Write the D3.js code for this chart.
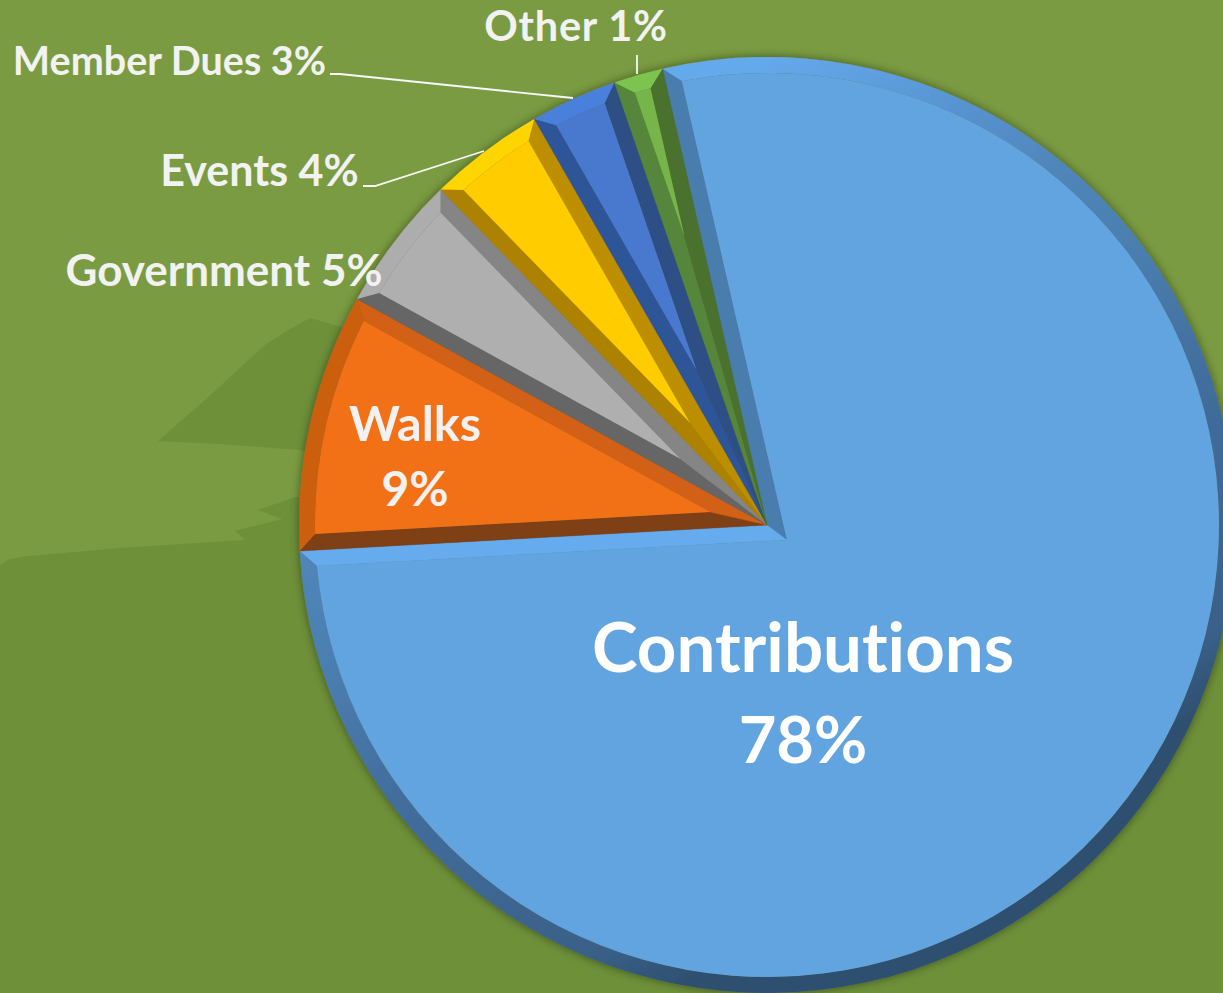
<!DOCTYPE html>
<html>
<head>
<meta charset="utf-8">
<script src="https://cdn.jsdelivr.net/npm/d3@7"></script>
<style>
  html, body { margin: 0; padding: 0; background: #7a9b41; overflow: hidden; }
  svg { display: block; }
  text { font-family: Lato, "Open Sans", sans-serif; font-weight: 700; font-variant-ligatures: none; }
</style>
</head>
<body>
<div id="chart"></div>
<script>
// Share of each slice (percent)
const categories = ['Contributions', 'Walks', 'Government', 'Events', 'Member Dues', 'Other'];
const shares = [77.7, 8.9, 4.7, 4.0, 3.0, 1.7];
// Percentages as printed on the labels
const printedPercents = [78, 9, 5, 4, 3, 1];

const faceColors = ['#62a4e0', '#f27118', '#afafaf', '#ffcc04', '#4a79cf', '#75b54a'];
const rimColors = ['url(#rimGradient)', '#cc5e10', '#adadad', '#ffd500', '#4a80dc', '#7cc34f'];
const startEdgeColors = ['#4a7dad', '#7f3f16', '#666666', '#ad8200', '#2f5597', '#57863a'];
const endEdgeColors = ['#66abee', '#d26012', '#858585', '#bd8f00', '#2e4f86', '#4b712e'];

const width = 1223, height = 993;
const cx = 767, cy = 525, radius = 468, bevel = 16;
const firstAngle = -12.9 * Math.PI / 180;

const svg = d3.select('#chart').append('svg')
    .attr('width', width)
    .attr('height', height);

const defs = svg.append('defs');

// Soft shadow round the pie
const shadow = defs.append('filter')
    .attr('id', 'pieShadow')
    .attr('x', '-5%').attr('y', '-5%')
    .attr('width', '110%').attr('height', '110%');
shadow.append('feDropShadow')
    .attr('dx', 0).attr('dy', 0)
    .attr('stdDeviation', 5)
    .attr('flood-color', '#000')
    .attr('flood-opacity', 0.45);

// Lit from the top left, so the big rim darkens towards the bottom right
const rimStops = [
    [0, '#66abee'], [0.13, '#64a9ec'], [0.27, '#5590cc'], [0.35, '#4f85b8'], [0.44, '#4a7fb0'],
    [0.56, '#436f9f'], [0.79, '#3a6088'], [0.85, '#2f5070'], [1, '#2e4f70']
];
defs.append('linearGradient')
    .attr('id', 'rimGradient')
    .attr('gradientUnits', 'userSpaceOnUse')
    .attr('x1', 500 - cx).attr('y1', 40 - cy)
    .attr('x2', 1000 - cx).attr('y2', 1000 - cy)
    .selectAll('stop')
    .data(rimStops)
    .join('stop')
    .attr('offset', d => d[0])
    .attr('stop-color', d => d[1]);

// Background landscape
const background = svg.append('g');
background.append('rect')
    .attr('width', width).attr('height', height)
    .attr('fill', '#7a9b41');
const landPaths = [
    'M158,441 L205,400 L265,345 L285,332 L310,318 L345,328 L400,400 L330,460 L300,450 L220,444 Z',
    'M258,510 L295,497 L330,497 L330,520 L285,520 Z',
    'M0,566 Q4,558 30,556 L120,548 L245,540 L235,531 L262,524 L320,510 L800,520 L1223,560 L1223,993 L0,993 Z'
];
background.selectAll('path')
    .data(landPaths)
    .join('path')
    .attr('d', d => d)
    .attr('fill', '#6e9039');

// Pie layout, clockwise from the Other/Contributions boundary
const pie = d3.pie()
    .sort(null)
    .startAngle(firstAngle)
    .endAngle(firstAngle + 2 * Math.PI);
const slices = pie(shares);

const pt = (angle, r) => [r * Math.sin(angle), -r * Math.cos(angle)];
const innerR = radius - bevel;
const cornerShift = Math.asin(bevel / innerR);

function polygonPath(points) {
    const p = d3.path();
    points.forEach((q, i) => i ? p.lineTo(q[0], q[1]) : p.moveTo(q[0], q[1]));
    p.closePath();
    return p.toString();
}

function innerApex(d) {
    const half = (d.endAngle - d.startAngle) / 2;
    return pt(d.startAngle + half, bevel / Math.sin(half));
}

function rimPath(d) {
    const a0 = d.startAngle, a1 = d.endAngle;
    const p = d3.path();
    p.arc(0, 0, radius, a0 - Math.PI / 2, a1 - Math.PI / 2, false);
    p.arc(0, 0, innerR, a1 - cornerShift - Math.PI / 2, a0 + cornerShift - Math.PI / 2, true);
    p.closePath();
    return p.toString();
}

function facePath(d) {
    const apex = innerApex(d);
    const p = d3.path();
    p.moveTo(apex[0], apex[1]);
    p.arc(0, 0, innerR, d.startAngle + cornerShift - Math.PI / 2, d.endAngle - cornerShift - Math.PI / 2, false);
    p.closePath();
    return p.toString();
}

const startEdgePath = d => polygonPath([[0, 0], pt(d.startAngle, radius), pt(d.startAngle + cornerShift, innerR), innerApex(d)]);
const endEdgePath = d => polygonPath([[0, 0], pt(d.endAngle, radius), pt(d.endAngle - cornerShift, innerR), innerApex(d)]);

const pieGroup = svg.append('g')
    .attr('transform', `translate(${cx},${cy})`)
    .attr('filter', 'url(#pieShadow)');

const sliceGroups = pieGroup.selectAll('.slice')
    .data(slices)
    .join('g')
    .attr('class', 'slice');

sliceGroups.append('path').attr('d', startEdgePath).attr('fill', d => startEdgeColors[d.index]).attr('stroke', d => startEdgeColors[d.index]).attr('stroke-width', 0.4);
sliceGroups.append('path').attr('d', endEdgePath).attr('fill', d => endEdgeColors[d.index]).attr('stroke', d => endEdgeColors[d.index]).attr('stroke-width', 0.4);
sliceGroups.append('path').attr('d', rimPath).attr('fill', d => rimColors[d.index]);
sliceGroups.append('path').attr('d', facePath).attr('fill', d => faceColors[d.index]);

// Leader lines
const leaderLines = [
    [[637, 55], [637, 74]],
    [[330, 74], [340, 74], [573, 98]],
    [[363, 186], [375, 186], [484, 151]]
];
svg.append('g').selectAll('path')
    .data(leaderLines)
    .join('path')
    .attr('d', d3.line())
    .attr('fill', 'none')
    .attr('stroke', '#f8f8f8')
    .attr('stroke-width', 1.8);

// Labels: two line ones sit on the slice, the rest on one line outside
const labelLayout = [
    { x: 803, y: [672, 763], size: [69, 65], spacing: 0, fill: '#ffffff' },
    { x: 415, y: [441, 506], size: [48.5, 48], spacing: 0, fill: '#f2f2f2' },
    { x: 224, y: [286], size: [44], spacing: 0, fill: '#f2f2f2' },
    { x: 259.5, y: [186], size: [43], spacing: 0, fill: '#f2f2f2' },
    { x: 169.5, y: [75], size: [39.5], spacing: 0, fill: '#f2f2f2' },
    { x: 576, y: [41], size: [41.5], spacing: 0.8, fill: '#f2f2f2' }
];

const labelGroup = svg.append('g');
categories.forEach((name, i) => {
    const spot = labelLayout[i];
    const pct = `${printedPercents[i]}%`;
    const lines = spot.y.length > 1 ? [name, pct] : [`${name} ${pct}`];
    lines.forEach((line, k) => {
        labelGroup.append('text')
            .attr('x', spot.x)
            .attr('y', spot.y[k])
            .attr('text-anchor', 'middle')
            .attr('fill', spot.fill)
            .style('font-size', `${spot.size[k]}px`)
            .style('letter-spacing', `${spot.spacing}px`)
            .text(line);
    });
});
</script>
</body>
</html>
